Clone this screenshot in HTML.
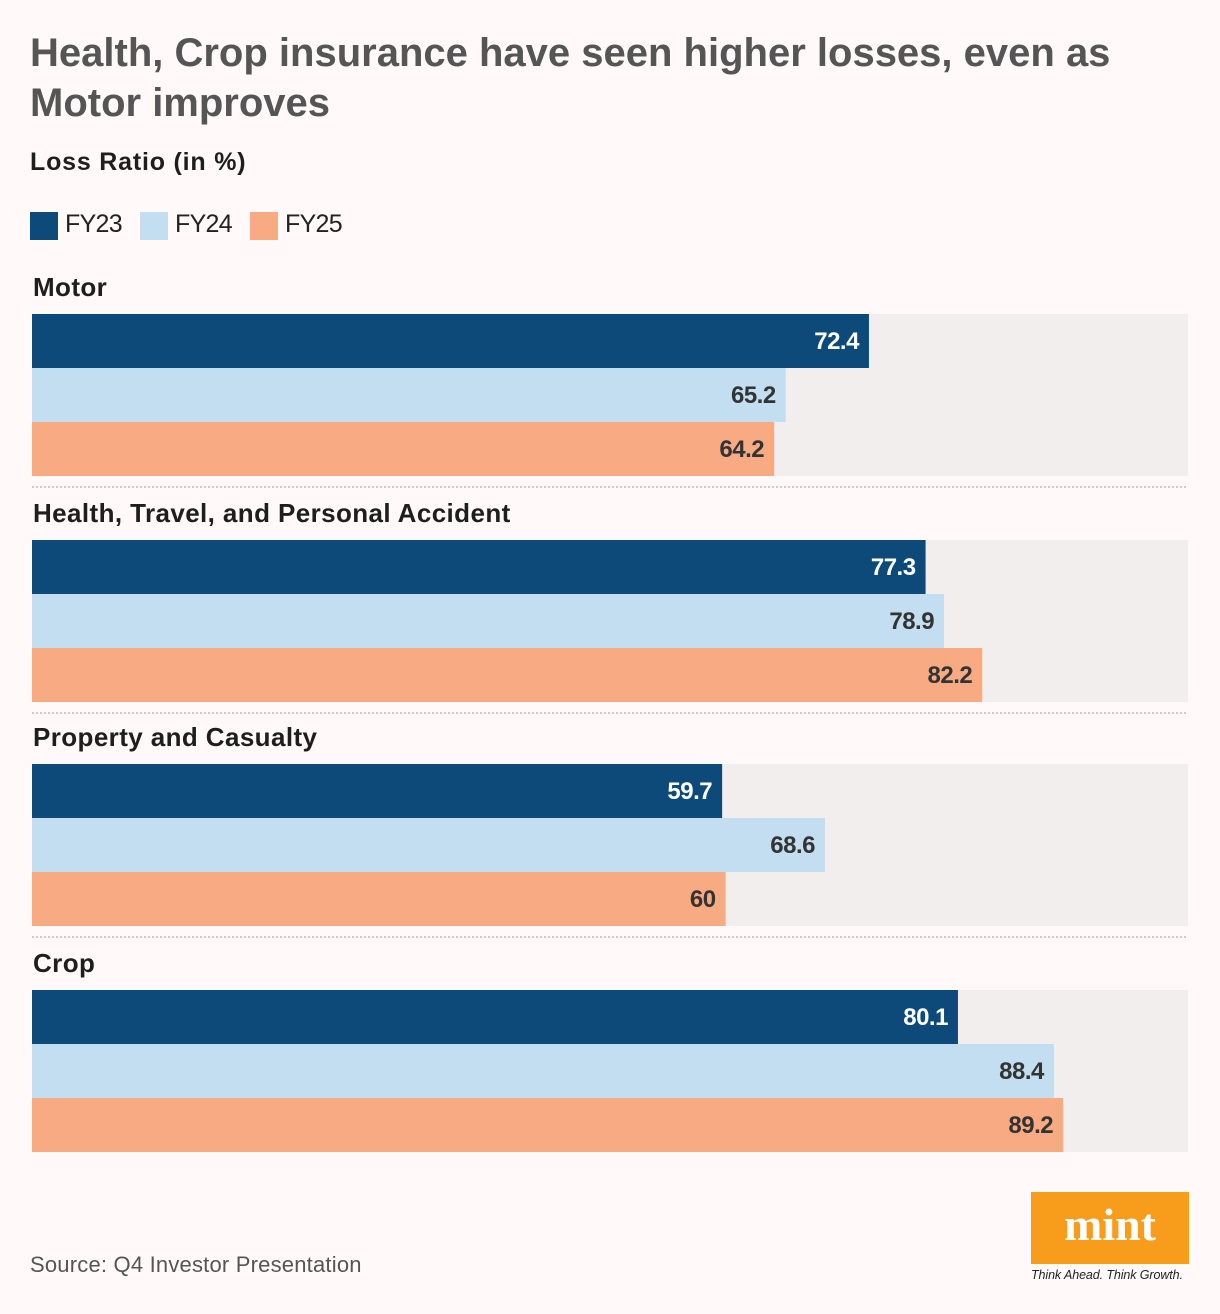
<!DOCTYPE html>
<html><head><meta charset="utf-8"><style>
body{margin:0;width:1220px;height:1314px;background:#fff9f9;font-family:"Liberation Sans",sans-serif;position:relative;overflow:hidden}
.t{position:absolute;left:30px;top:28px;font-size:40px;font-weight:bold;color:#555;line-height:50px;letter-spacing:0px}
.st{position:absolute;left:30px;top:148px;font-size:25px;font-weight:bold;color:#1e1e1e;letter-spacing:0.8px}
.lg{position:absolute;top:212px;width:28px;height:28px}
.lt{position:absolute;top:210px;font-size:25px;color:#222;letter-spacing:-0.7px}
.src{position:absolute;left:30px;top:1252px;font-size:22px;color:#555;letter-spacing:0.2px}
</style></head><body>
<div class="t">Health, Crop insurance have seen higher losses, even as<br>Motor improves</div>
<div class="st">Loss Ratio (in %)</div>
<div class="lg" style="left:30px;background:#0d4a79"></div>
<div class="lt" style="left:65px">FY23</div>
<div class="lg" style="left:140px;background:#c2def0"></div>
<div class="lt" style="left:175px">FY24</div>
<div class="lg" style="left:250px;background:#f8aa83"></div>
<div class="lt" style="left:285px">FY25</div>
<svg id="chart" width="1220" height="1314" style="position:absolute;left:0;top:0"></svg>
<div class="src">Source: Q4 Investor Presentation</div>
<div style="position:absolute;left:1031px;top:1192px;width:158px;height:72px;background:#f89c1c;color:#fff;font-family:'Liberation Serif',serif;font-weight:bold;font-size:46px;text-align:center;line-height:66px">mint</div>
<div style="position:absolute;left:1031px;top:1268px;font-size:12.5px;font-style:italic;color:#222;letter-spacing:-0.1px">Think Ahead. Think Growth.</div>
<script>
const categories=["Motor","Health, Travel, and Personal Accident","Property and Casualty","Crop"];
const fy23=[72.4,77.3,59.7,80.1];
const fy24=[65.2,78.9,68.6,88.4];
const fy25=[64.2,82.2,60,89.2];
const series=[fy23,fy24,fy25];
const seriesNames=["fy23","fy24","fy25"];
const colors=["#0d4a79","#c2def0","#f8aa83"];
const textColors=["#fff","#333","#333"];
const svg=document.getElementById('chart');
const NS="http://www.w3.org/2000/svg";
const x0=32,x1=1188,xmax=100;
const xs=v=>x0+(v/xmax)*(x1-x0);
const gTop=[314,540,764,990];
const bh=54;
function mk(t,a){const e=document.createElementNS(NS,t);for(const k in a)e.setAttribute(k,a[k]);svg.appendChild(e);return e;}
categories.forEach((c,i)=>{
  const y=gTop[i];
  const lab=mk('text',{x:33,y:y-18,'font-size':26,'font-weight':'bold',fill:'#1e1e1e','letter-spacing':'0.4','font-family':'Liberation Sans, sans-serif'});
  lab.textContent=c;
  
  
  const bg=mk('rect',{x:x0,y:y,width:x1-x0,height:bh*3,fill:'#f3eeee'});
  
  
  series.forEach((s,j)=>{
    const r=mk('rect',{x:x0,y:y+j*bh,width:xs(s[i])-x0,height:bh,fill:colors[j]});
    
    
    const t=mk('text',{x:xs(s[i])-10,y:y+j*bh+35,'text-anchor':'end','font-size':24,'font-weight':'bold',fill:textColors[j],'font-family':'Liberation Sans, sans-serif','letter-spacing':'-0.5'});
    t.textContent=String(s[i]);
    
    
  });
  if(i<categories.length-1){
    const l=mk('line',{x1:x0,x2:x1,y1:y+bh*3+11,y2:y+bh*3+11,stroke:'#bbb','stroke-width':1.5,'stroke-dasharray':'2,2'});
    
    
  }
});
</script>
</body></html>
